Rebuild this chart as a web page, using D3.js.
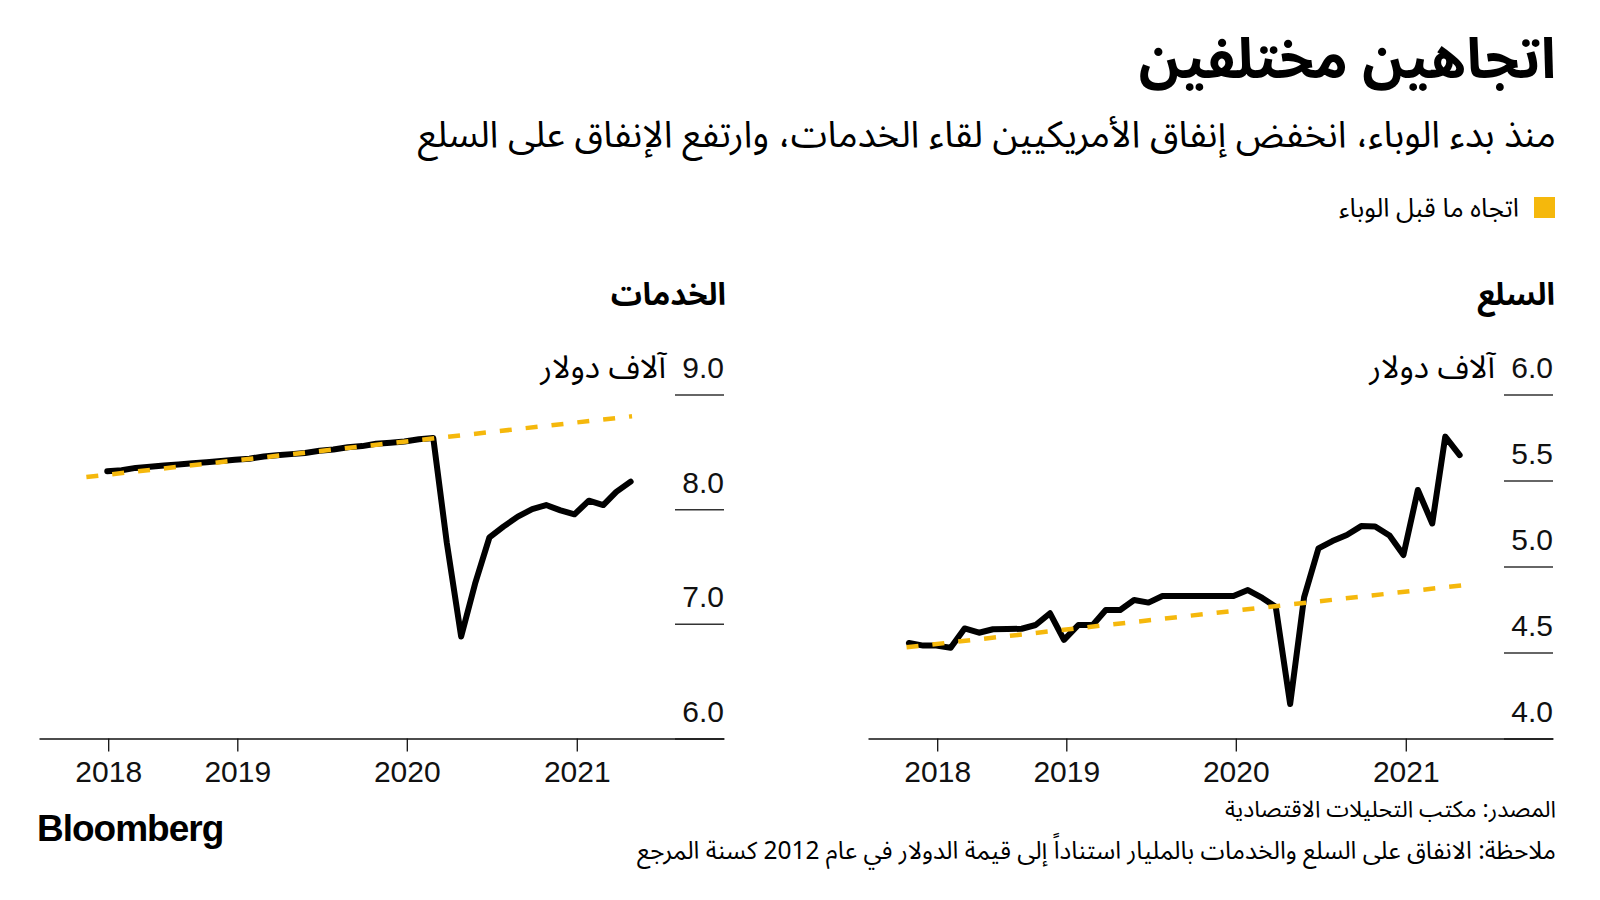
<!DOCTYPE html>
<html><head><meta charset="utf-8">
<script src="https://cdn.jsdelivr.net/npm/d3@7"></script>
<style>
html,body{margin:0;padding:0;background:#fff;}
svg{display:block;}
.ar{font-family:"Noto Sans Arabic","Noto Naskh Arabic","DejaVu Sans",sans-serif;}
.num{font-family:"Liberation Sans",Arial,sans-serif;}
</style></head><body>
<svg id="chart" width="1600" height="900"></svg>
<script>
// ---------- DATA ----------
const goodsMonths = ["2018-01","2018-02","2018-03","2018-04","2018-05","2018-06","2018-07","2018-08","2018-09","2018-10","2018-11","2018-12",
  "2019-01","2019-02","2019-03","2019-04","2019-05","2019-06","2019-07","2019-08","2019-09","2019-10","2019-11","2019-12",
  "2020-01","2020-02","2020-03","2020-04","2020-05","2020-06","2020-07","2020-08","2020-09","2020-10","2020-11","2020-12",
  "2021-01","2021-02","2021-03","2021-04"];
const goodsValues = [4.555,4.54,4.54,4.528,4.64,4.615,4.635,4.636,4.638,4.66,4.728,4.573,
  4.66,4.66,4.747,4.747,4.805,4.79,4.828,4.828,4.828,4.828,4.828,4.828,
  4.863,4.817,4.766,4.20,4.82,5.105,5.148,5.183,5.235,5.233,5.18,5.067,
  5.445,5.25,5.755,5.648];

const servicesMonths = ["2018-03","2018-04","2018-05","2018-06","2018-07","2018-08","2018-09","2018-10","2018-11","2018-12",
  "2019-01","2019-02","2019-03","2019-04","2019-05","2019-06","2019-07","2019-08","2019-09","2019-10","2019-11","2019-12",
  "2020-01","2020-02","2020-03","2020-04","2020-05","2020-06","2020-07","2020-08","2020-09","2020-10","2020-11","2020-12",
  "2021-01","2021-02","2021-03","2021-04"];
const servicesValues = [8.33,8.34,8.36,8.37,8.38,8.39,8.40,8.41,8.42,8.43,
  8.44,8.46,8.47,8.48,8.49,8.51,8.52,8.54,8.55,8.57,8.58,8.59,
  8.61,8.62,7.71,6.89,7.35,7.755,7.848,7.935,8.0,8.036,7.99,7.955,
  8.074,8.036,8.151,8.24];

const servicesTrendDates = ["2018-02-10","2021-04-30"];
const servicesTrendValues = [8.28, 8.81];
const goodsTrendDates = ["2018-01-22","2021-05-01"];
const goodsTrendValues = [4.53, 4.89];

const yearTickDates = ["2018-03-29","2019-01-01","2020-01-01","2021-01-01"];
const yearTickLabels = ["2018","2019","2020","2021"];
const servicesYTicks = [6, 7, 8, 9];
const goodsYTicks = [4, 4.5, 5, 5.5, 6];

const titleText = "اتجاهين مختلفين";
const subtitleText = "منذ بدء الوباء، انخفض إنفاق الأمريكيين لقاء الخدمات، وارتفع الإنفاق على السلع";
const legendText = "اتجاه ما قبل الوباء";
const servicesTitle = "الخدمات";
const goodsTitle = "السلع";
const unitText = "آلاف دولار";
const sourceText = "المصدر: مكتب التحليلات الاقتصادية";
const noteText = "ملاحظة: الانفاق على السلع والخدمات بالمليار استناداً إلى قيمة الدولار في عام 2012 كسنة المرجع";

// ---------- DRAW ----------
const svg = d3.select("#chart");
const YELLOW = "#f5b80c";
const parseMonth = d3.timeParse("%Y-%m");
const parseDay = d3.timeParse("%Y-%m-%d");
const monthPos = s => { const d = parseMonth(s); d.setDate(27); return d; };

function arText(x, y, txt, size, weight, cls) {
  return svg.append("text").attr("class", cls || "ar")
    .attr("x", x).attr("y", y)
    .attr("direction", "rtl").attr("text-anchor", "start")
    .style("font-size", size + "px").style("font-weight", weight || 400)
    .attr("fill", "#000").text(txt);
}

arText(1556, 78, titleText, 56, 700);
arText(1556, 147, subtitleText, 37, 400);
svg.append("rect").attr("x", 1534).attr("y", 197).attr("width", 21).attr("height", 21).attr("fill", YELLOW);
arText(1519, 217, legendText, 26, 400);
arText(1556, 817, sourceText, 23, 400);
arText(1556, 859, noteText, 24.5, 400);
svg.append("text").attr("class","num").attr("x", 37).attr("y", 841)
  .style("font-size","37px").style("font-weight",700).style("letter-spacing","-1px")
  .attr("fill","#000").text("Bloomberg");

const domainX = [parseDay("2017-10-31"), parseDay("2021-11-14")];

function panel(opts) {
  const x = d3.scaleTime().domain(domainX).range(opts.xRange);
  const y = d3.scaleLinear().domain(opts.yDomain).range([738.5, 394.5]);
  const g = svg.append("g");
  const right = opts.xRange[1];

  // panel title & unit
  arText(right + 2, 305, opts.title, 31, 700);
  arText(right - 58, 378, unitText, 32, 400);

  // y gridlines (short) and labels
  const yAxis = d3.axisRight(y).tickValues(opts.yTicks).tickSize(0)
    .tickFormat(d3.format(".1f"));
  const ga = g.append("g").attr("transform", `translate(${right},0)`).call(yAxis);
  ga.select(".domain").remove();
  ga.selectAll(".tick text").attr("x", 0).attr("dy", -17)
    .attr("text-anchor", "end").attr("class","num")
    .style("font-size","30px").attr("fill","#111");
  ga.selectAll(".tick").append("line")
    .attr("x1", -49).attr("x2", 0).attr("y1", 0).attr("y2", 0)
    .attr("stroke", "#333").attr("stroke-width", 1.5);

  // x axis
  const xAxis = d3.axisBottom(x)
    .tickValues(yearTickDates.map(parseDay))
    .tickFormat((d, i) => yearTickLabels[i])
    .tickSize(13).tickSizeOuter(0);
  const gx = g.append("g").attr("transform", "translate(0,738.5)").call(xAxis);
  gx.select(".domain").attr("stroke", "#111").attr("stroke-width", 1.6);
  gx.selectAll(".tick line").attr("stroke", "#111").attr("stroke-width", 1.3);
  gx.selectAll(".tick text").attr("class","num").attr("y", 43).attr("dy", 0)
    .style("font-size","30px").attr("fill","#111");

  // lines
  const trend = opts.trendDates.map((d, i) => ({ d: parseDay(d), v: opts.trendValues[i] }));
  const series = opts.months.map((m, i) => ({ d: monthPos(m), v: opts.values[i] }));
  const line = d3.line().x(p => x(p.d)).y(p => y(p.v));

  g.append("path").datum(series).attr("d", line)
    .attr("fill", "none").attr("stroke", "#000").attr("stroke-width", 6)
    .attr("stroke-linejoin", "round").attr("stroke-linecap", "round");
  g.append("path").datum(trend).attr("d", line)
    .attr("fill", "none").attr("stroke", YELLOW).attr("stroke-width", 4.5)
    .attr("stroke-dasharray", "12,14");
}

panel({ xRange: [39, 724], yDomain: [6, 9], yTicks: servicesYTicks,
  months: servicesMonths, values: servicesValues,
  trendDates: servicesTrendDates, trendValues: servicesTrendValues, title: servicesTitle });
panel({ xRange: [868, 1553], yDomain: [4, 6], yTicks: goodsYTicks,
  months: goodsMonths, values: goodsValues,
  trendDates: goodsTrendDates, trendValues: goodsTrendValues, title: goodsTitle });
</script>
</body></html>
